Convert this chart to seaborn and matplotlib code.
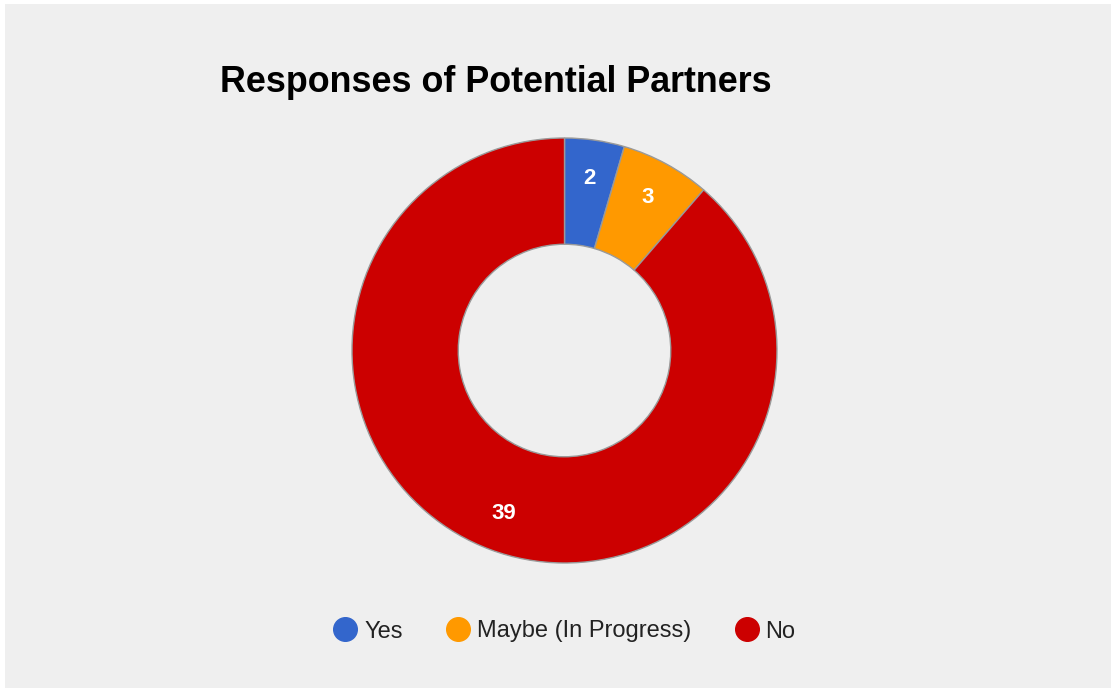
import matplotlib
matplotlib.use("Agg")
import matplotlib.pyplot as plt
from matplotlib.lines import Line2D
from matplotlib.patches import Rectangle
import seaborn as sns

categories = ["Yes", "Maybe (In Progress)", "No"]
counts = [2, 3, 39]
colors = ["#3366cc", "#ff9900", "#cc0000"]
title = "Responses of Potential Partners"

sns.set_theme(style="white")
plt.rcParams["font.family"] = ["Liberation Sans", "DejaVu Sans"]

W, H, DPI = 1116, 691, 100
fig = plt.figure(figsize=(W / DPI, H / DPI), dpi=DPI, facecolor="white")

# light grey panel inside a thin white frame
fig.patches.append(Rectangle((5 / W, 3 / H), 1106 / W, 684 / H, transform=fig.transFigure,
                             facecolor="#efefef", edgecolor="none", zorder=-10))

cx, cy, r = 564.5, 340.5, 212.5
ax = fig.add_axes([(cx - r) / W, (cy - r) / H, 2 * r / W, 2 * r / H])
ax.set_facecolor("none")
ax.set_zorder(5)

wedges, texts, autotexts = ax.pie(
    counts, colors=colors, startangle=90, counterclock=False, radius=1.0,
    wedgeprops=dict(width=0.5, edgecolor="#9a9a9a", linewidth=1.0),
    autopct=lambda p: f"{round(p * sum(counts) / 100):d}", pctdistance=0.82,
    textprops=dict(color="white", fontsize=16, fontweight="bold"))
ax.set_xlim(-1, 1)
ax.set_ylim(-1, 1)
ax.set_aspect("equal")
ax.axis("off")

fig.text(220 / W, 1 - 92 / H, title, fontsize=25.8, fontweight="bold", color="black",
         ha="left", va="baseline")

handles = [Line2D([0], [0], marker="o", linestyle="none", markersize=17,
                  markerfacecolor=c, markeredgecolor=c) for c in colors]
fig.legend(handles, categories, loc="center", bbox_to_anchor=(565 / W, 1 - 631.5 / H),
           ncol=3, frameon=False, fontsize=17, labelcolor="#222222",
           handlelength=0.9, handletextpad=0.35, columnspacing=1.9)

fig.savefig("out.png", dpi=DPI, facecolor="white")
